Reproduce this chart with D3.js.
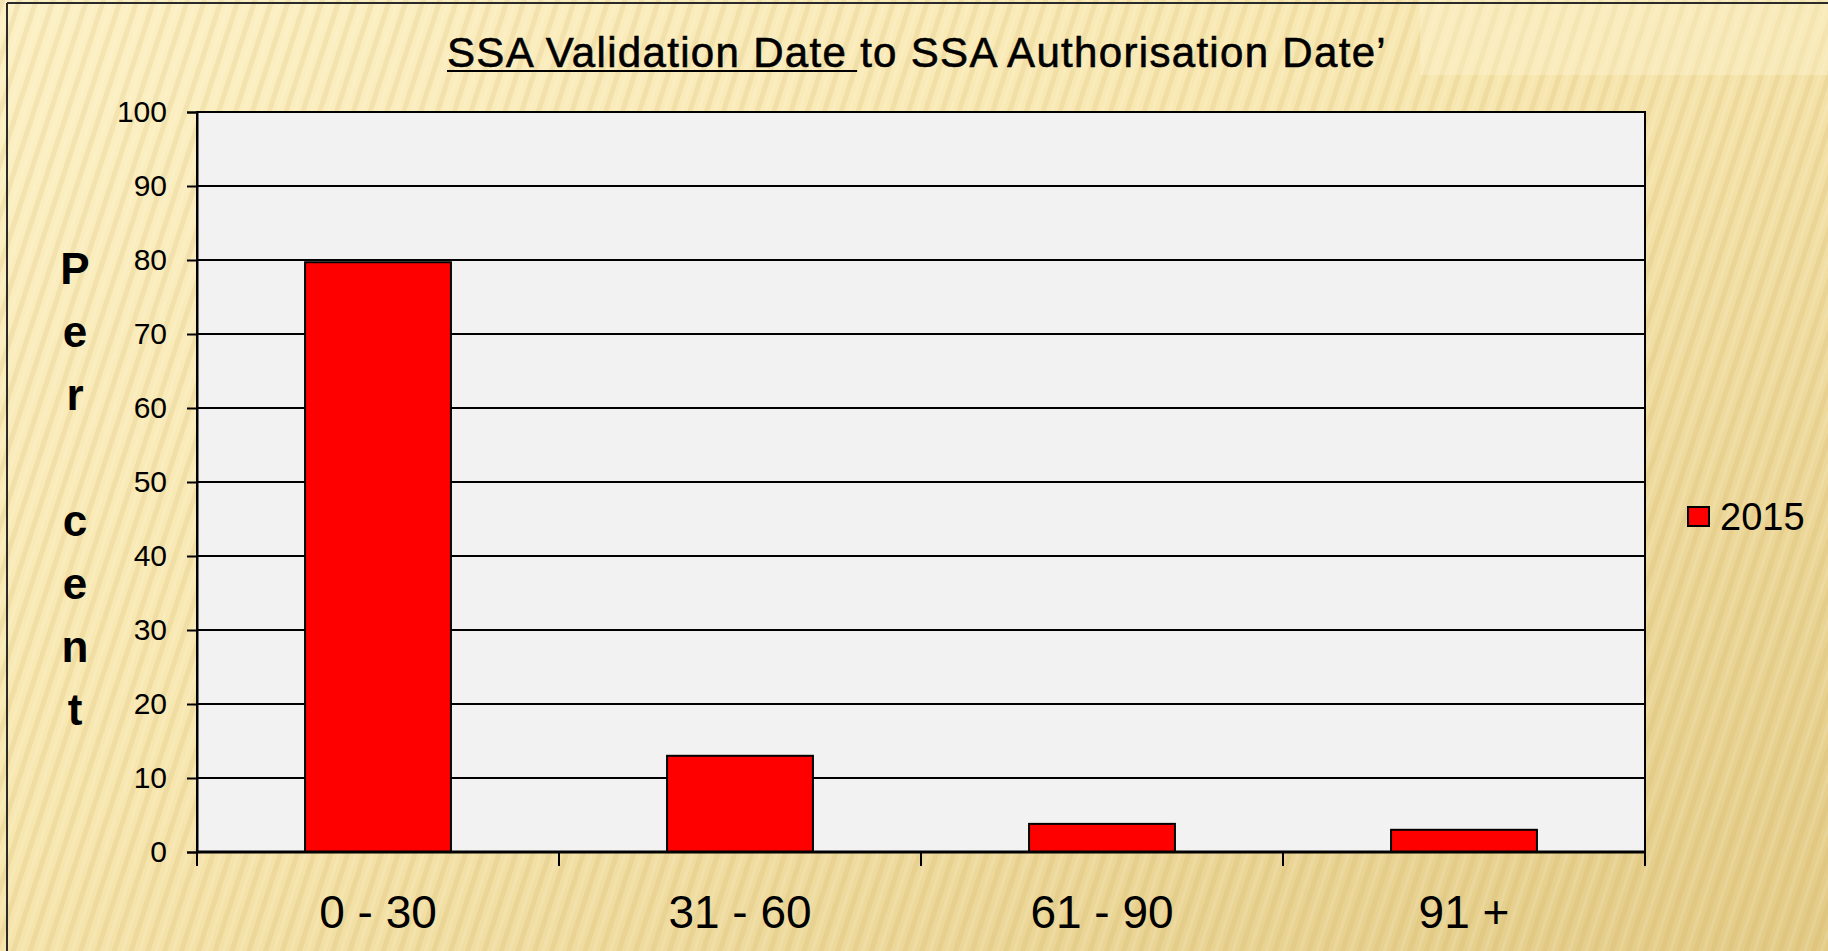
<!DOCTYPE html>
<html>
<head>
<meta charset="utf-8">
<script src="https://cdn.jsdelivr.net/npm/d3@7"></script>
<style>
  body { margin: 0; background: #f5e4ad; }
  text { font-family: "Liberation Sans", Arial, sans-serif; }
</style>
</head>
<body>
<div id="chart"></div>
<script>
// data
var categories = ["0 - 30", "31 - 60", "61 - 90", "91 +"];
var values2015 = [79.7, 13.0, 3.8, 3.0];
var seriesName = "2015";
var yTicks = [0, 10, 20, 30, 40, 50, 60, 70, 80, 90, 100];
var yTitle = "Per cent";
var titleUnderlined = "SSA Validation Date ";
var titleRest = "to SSA Authorisation Date\u2019";

var W = 1828, H = 951;
var margin = { top: 112, right: 183, bottom: 99, left: 197 };
var width = W - margin.left - margin.right,
    height = H - margin.top - margin.bottom;

var svg = d3.select("#chart")
    .append("svg")
    .attr("width", W)
    .attr("height", H);

// background: warm paper with streaks
var defs = svg.append("defs");
var grad = defs.append("linearGradient")
    .attr("id", "bg")
    .attr("x1", 0).attr("y1", 0).attr("x2", 1).attr("y2", 1);
grad.append("stop").attr("offset", 0).attr("stop-color", "#fcf0c4");
grad.append("stop").attr("offset", 0.45).attr("stop-color", "#f7e6ae");
grad.append("stop").attr("offset", 1).attr("stop-color", "#e3cb86");

var pat = defs.append("pattern")
    .attr("id", "streaks")
    .attr("patternUnits", "userSpaceOnUse")
    .attr("width", 16).attr("height", 16)
    .attr("patternTransform", "rotate(18)");
pat.append("rect").attr("x", 0).attr("y", 0).attr("width", 5).attr("height", 16)
    .attr("fill", "#c9a95c").attr("opacity", 0.16);
pat.append("rect").attr("x", 9).attr("y", 0).attr("width", 3).attr("height", 16)
    .attr("fill", "#ffffff").attr("opacity", 0.12);

svg.append("rect").attr("width", W).attr("height", H).attr("fill", "url(#bg)");
svg.append("rect").attr("width", W).attr("height", H).attr("fill", "url(#streaks)");
svg.append("rect").attr("x", 1420).attr("y", 0).attr("width", W - 1420).attr("height", 75)
    .attr("fill", "#fff6d6").attr("opacity", 0.35);

// slide frame
svg.append("line").attr("x1", 7).attr("y1", 3).attr("x2", W).attr("y2", 3)
    .attr("stroke", "#2a2a2a").attr("stroke-width", 2);
svg.append("line").attr("x1", 7).attr("y1", 3).attr("x2", 7).attr("y2", H)
    .attr("stroke", "#2a2a2a").attr("stroke-width", 2);

var chart = svg.append("g")
    .attr("transform", "translate(" + margin.left + "," + margin.top + ")");

// scales
var xScale = d3.scaleBand()
    .domain(categories)
    .range([0, width])
    .paddingInner(0.597)
    .paddingOuter(0.2985);

var xSlots = d3.scaleBand()
    .domain(categories)
    .range([0, width]);

var yScale = d3.scaleLinear()
    .domain([0, 100])
    .range([height, 0]);

// plot area
chart.append("rect")
    .attr("width", width)
    .attr("height", height)
    .attr("fill", "#f2f2f2");

// gridlines
chart.selectAll(".grid")
    .data(yTicks.filter(function (d) { return d > 0; }))
    .enter()
    .append("line")
    .attr("class", "grid")
    .attr("x1", 0).attr("x2", width)
    .attr("y1", function (d) { return yScale(d); })
    .attr("y2", function (d) { return yScale(d); })
    .attr("stroke", "#000")
    .attr("stroke-width", 2);

// bars
chart.selectAll(".bar")
    .data(values2015)
    .enter()
    .append("rect")
    .attr("class", "bar")
    .attr("x", function (d, i) { return xScale(categories[i]); })
    .attr("y", function (d) { return yScale(d); })
    .attr("width", xScale.bandwidth())
    .attr("height", function (d) { return height - yScale(d); })
    .attr("fill", "#ff0000")
    .attr("stroke", "#000")
    .attr("stroke-width", 2);

// plot border (right + top)
chart.append("rect")
    .attr("width", width)
    .attr("height", height)
    .attr("fill", "none")
    .attr("stroke", "#000")
    .attr("stroke-width", 2);

// y axis
var yAxis = chart.append("g")
    .attr("class", "y axis")
    .call(d3.axisLeft(yScale).tickValues(yTicks).tickSize(10).tickPadding(20));
yAxis.selectAll("path, line").attr("stroke", "#000").attr("stroke-width", 2);
yAxis.selectAll("text")
    .style("font-family", "'Liberation Sans', Arial, sans-serif")
    .style("font-size", "30px")
    .attr("fill", "#000");

// x axis: ticks at category boundaries
var xAxis = chart.append("g")
    .attr("class", "x axis")
    .attr("transform", "translate(0," + height + ")");
xAxis.append("line")
    .attr("x1", 0).attr("x2", width)
    .attr("stroke", "#000").attr("stroke-width", 3);
xAxis.selectAll(".xtick")
    .data(categories.concat(["end"]))
    .enter()
    .append("line")
    .attr("class", "xtick")
    .attr("x1", function (d, i) { return i * xSlots.step(); })
    .attr("x2", function (d, i) { return i * xSlots.step(); })
    .attr("y1", 0).attr("y2", 14)
    .attr("stroke", "#000").attr("stroke-width", 2);
xAxis.selectAll(".xlab")
    .data(categories)
    .enter()
    .append("text")
    .attr("class", "xlab")
    .attr("x", function (d) { return xSlots(d) + xSlots.bandwidth() / 2; })
    .attr("y", 64)
    .attr("text-anchor", "middle")
    .attr("dominant-baseline", "middle")
    .style("font-size", "46px")
    .attr("fill", "#000")
    .text(function (d) { return d; });

// y title, one letter per line
svg.selectAll(".ylet")
    .data(yTitle.split(""))
    .enter()
    .append("text")
    .attr("class", "ylet")
    .attr("x", 75)
    .attr("y", function (d, i) { return 284 + i * 63; })
    .attr("text-anchor", "middle")
    .style("font-size", "44px")
    .style("font-weight", "bold")
    .attr("fill", "#000")
    .text(function (d) { return d; });

// title
var title = svg.append("text")
    .attr("x", 447)
    .attr("y", 67)
    .style("font-size", "42px")
    .attr("fill", "#000")
    .attr("stroke", "#000")
    .attr("stroke-width", 0.6)
    .attr("xml:space", "preserve")
    .style("white-space", "pre");
title.append("tspan").text(titleUnderlined);
title.append("tspan").text(titleRest);
var natural = title.node().getComputedTextLength();
var nChars = (titleUnderlined + titleRest).length;
title.style("letter-spacing", ((940 - natural) / nChars) + "px");
var toStart = title.node().getStartPositionOfChar(titleUnderlined.length).x;
svg.append("line")
    .attr("x1", 447).attr("x2", toStart - 3)
    .attr("y1", 71).attr("y2", 71)
    .attr("stroke", "#000").attr("stroke-width", 2);

// legend
var legend = svg.append("g").attr("transform", "translate(1688,507)");
legend.append("rect")
    .attr("width", 21).attr("height", 19)
    .attr("fill", "#ff0000")
    .attr("stroke", "#000")
    .attr("stroke-width", 2);
legend.append("text")
    .attr("x", 32)
    .attr("y", 13)
    .attr("dominant-baseline", "middle")
    .style("font-size", "38px")
    .attr("fill", "#000")
    .text(seriesName);
</script>
</body>
</html>
